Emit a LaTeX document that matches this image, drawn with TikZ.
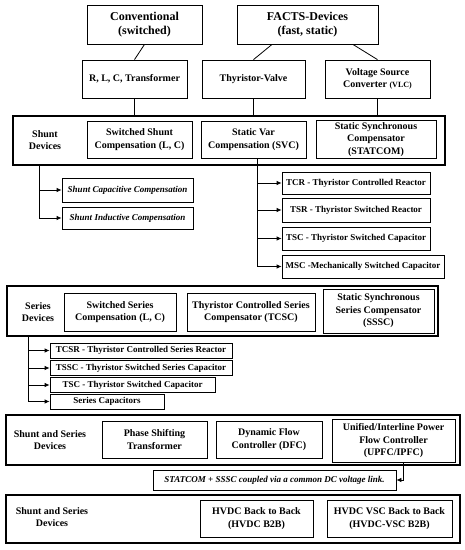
\documentclass[tikz,border=0pt]{standalone}
\usepackage{fontspec}
\setmainfont{Liberation Serif}
\usetikzlibrary{arrows.meta,calc}
\begin{document}
\begin{tikzpicture}[x=1pt,y=-1pt,
  box/.style={draw, line width=0.8pt, align=center, inner sep=1pt,
    font=\bfseries\fontsize{10}{12.5}\selectfont},
  bigbox/.style={draw, line width=1.4pt, inner sep=0pt},
  topbox/.style={box, font=\bfseries\fontsize{12}{14}\selectfont},
  listbox/.style={box, font=\bfseries\fontsize{9}{11}\selectfont},
  itbox/.style={box, font=\bfseries\itshape\fontsize{9}{11}\selectfont},
  lbl/.style={align=center, inner sep=0pt, font=\bfseries\fontsize{10}{12.5}\selectfont},
  conn/.style={line width=0.8pt},
  arr/.style={line width=0.8pt, -{Latex[length=5pt,width=4.5pt]}}
]
\useasboundingbox (0,0) rectangle (465,550);

% top level
\node[topbox, minimum width=115, minimum height=39] (conv) at (144.5,24.5) {Conventional\\(switched)};
\node[topbox, minimum width=141, minimum height=39] (facts) at (307.5,24.5) {FACTS-Devices\\(fast, static)};
\node[box, minimum width=105, minimum height=38] (rlc) at (134.5,79) {R, L, C, Transformer};
\node[box, minimum width=103, minimum height=38] (thy) at (253.5,79) {Thyristor-Valve};
\node[box, minimum width=105, minimum height=38] (vsc) at (377.5,79) {Voltage Source\\Converter {\fontsize{8}{10}\selectfont(VLC)}};

% shunt devices
\node[bigbox, minimum width=432, minimum height=49] (shunt) at (229,140.5) {};
\node[lbl] (shuntl) at (45,140) {Shunt\\Devices};
\node[box, minimum width=105, minimum height=37] (swsh) at (139.5,139.5) {Switched Shunt\\Compensation (L, C)};
\node[box, minimum width=105, minimum height=37] (svc) at (253.5,139.5) {Static Var\\Compensation (SVC)};
\node[box, minimum width=120, minimum height=38] (statcom) at (376,139.5) {Static Synchronous\\Compensator\\(STATCOM)};

\node[itbox, minimum width=131, minimum height=24] (scap) at (127.5,190) {Shunt Capacitive Compensation};
\node[itbox, minimum width=131, minimum height=22] (sind) at (127.5,218) {Shunt Inductive Compensation};

\node[listbox, minimum width=148, minimum height=22] (tcr) at (356,183) {TCR - Thyristor Controlled Reactor};
\node[listbox, minimum width=148, minimum height=24] (tsr) at (356,210) {TSR - Thyristor Switched Reactor};
\node[listbox, minimum width=148, minimum height=23] (tsc) at (356,238.5) {TSC - Thyristor Switched Capacitor};
\node[listbox, minimum width=162, minimum height=23] (msc) at (363,266.5) {MSC -Mechanically Switched Capacitor};

% series devices
\node[bigbox, minimum width=431, minimum height=50] (series) at (222.5,311) {};
\node[lbl] (seriesl) at (38,312) {Series\\Devices};
\node[box, minimum width=112, minimum height=38] (swse) at (120,312) {Switched Series\\Compensation (L, C)};
\node[box, minimum width=128, minimum height=38] (tcsc) at (251,312) {Thyristor Controlled Series\\Compensator (TCSC)};
\node[box, minimum width=111, minimum height=44] (sssc) at (378.5,311) {Static Synchronous\\Series Compensator\\(SSSC)};

\node[listbox, minimum width=182, minimum height=15] (tcsr) at (141,350.5) {TCSR - Thyristor Controlled Series Reactor};
\node[listbox, minimum width=182, minimum height=15] (tssc) at (141,368) {TSSC - Thyristor Switched Series Capacitor};
\node[listbox, minimum width=165, minimum height=15] (tscs) at (132.5,385) {TSC - Thyristor Switched Capacitor};
\node[listbox, minimum width=114, minimum height=15] (scaps) at (107,401.5) {Series Capacitors};

% shunt and series devices
\node[bigbox, minimum width=454, minimum height=50] (ss) at (233,440) {};
\node[lbl] (ssl) at (50,440) {Shunt and Series\\Devices};
\node[box, minimum width=105, minimum height=37] (pst) at (154.5,439.5) {Phase Shifting\\Transformer};
\node[box, minimum width=106, minimum height=37] (dfc) at (269,439.5) {Dynamic Flow\\Controller (DFC)};
\node[box, minimum width=123, minimum height=43] (upfc) at (393.5,441) {Unified/Interline Power\\Flow Controller\\(UPFC/IPFC)};
\node[itbox, minimum width=243, minimum height=20] (link) at (274.5,480) {STATCOM + SSSC coupled via a common DC voltage link.};

% HVDC
\node[bigbox, minimum width=454, minimum height=48] (hv) at (233,519) {};
\node[lbl] (hvl) at (52,517) {Shunt and Series\\Devices};
\node[box, minimum width=113, minimum height=37] (b2b) at (256.5,518.5) {HVDC Back to Back\\(HVDC B2B)};
\node[box, minimum width=125, minimum height=37] (vb2b) at (389.5,518.5) {HVDC VSC Back to Back\\(HVDC-VSC B2B)};

% connectors
\draw[conn] (conv.south) -- (rlc.north);
\draw[conn] ($(facts.south west)!.25!(facts.south east)$) -- (thy.north);
\draw[conn] ($(facts.south west)!.82!(facts.south east)$) -- (vsc.north);
\draw[conn] (rlc.south) -- (rlc.south |- shunt.north);
\draw[conn] (thy.south) -- (thy.south |- shunt.north);
\draw[conn] (vsc.south) -- (vsc.south |- shunt.north);

\coordinate (st) at (39,165);
\draw[arr] (st) |- (scap.west);
\draw[arr] (st) |- (sind.west);

\coordinate (sv) at ([xshift=4pt]svc.south);
\draw[arr] (sv) |- (tcr.west);
\draw[arr] (sv) |- (tsr.west);
\draw[arr] (sv) |- (tsc.west);
\draw[arr] (sv) |- (msc.west);

\coordinate (sr) at (28,336);
\draw[arr] (sr) |- (tcsr.west);
\draw[arr] (sr) |- (tssc.west);
\draw[arr] (sr) |- (tscs.west);
\draw[arr] (sr) |- (scaps.west);

\draw[arr] ([xshift=10pt]upfc.south) |- (link.east);
\end{tikzpicture}
\end{document}
